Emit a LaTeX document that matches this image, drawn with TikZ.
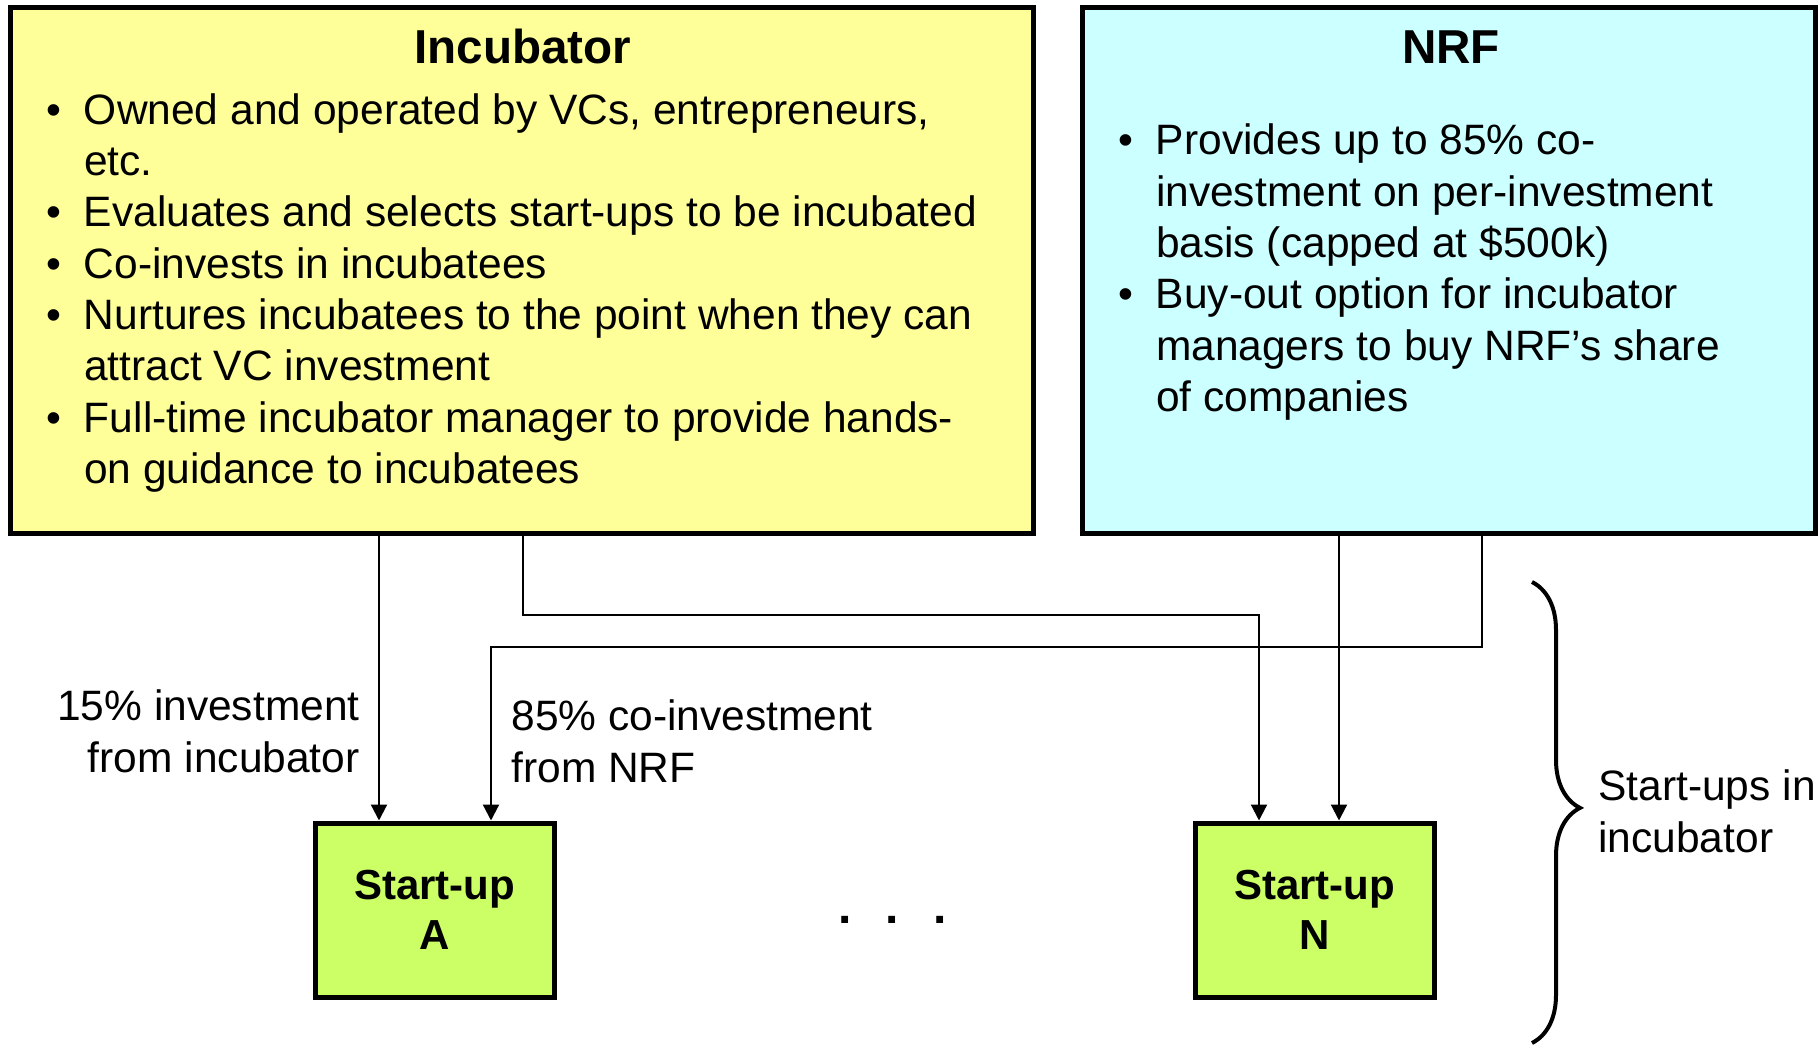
\documentclass[tikz,border=0pt]{standalone}
\usepackage{fontspec}
\setmainfont{Liberation Sans}
\usetikzlibrary{arrows.meta,decorations.pathreplacing}
\definecolor{incyellow}{RGB}{255,255,153}
\definecolor{nrfcyan}{RGB}{204,255,255}
\definecolor{startgreen}{RGB}{204,255,102}
\newcommand{\bodyfont}{\fontsize{21.25pt}{25.65pt}\selectfont}
\newcommand{\bul}{\makebox[18.8pt][l]{\textbullet}}
\newcommand{\ind}{\hspace*{18.8pt}}

\begin{document}
\begin{tikzpicture}[x=0.5pt, y=-0.5pt,
  bigbox/.style={draw, line width=2.5pt, inner sep=0pt},
  startbox/.style={draw, line width=2.5pt, fill=startgreen, minimum width=119.5pt, minimum height=87pt,
    align=center, font=\fontsize{21pt}{25pt}\selectfont\bfseries},
  titletext/.style={inner sep=0pt, font=\fontsize{23.8pt}{28pt}\selectfont\bfseries},
  bodytext/.style={inner sep=0pt, align=left, font=\bodyfont},
  flow/.style={draw, line width=1.1pt, -{Triangle[length=8pt,width=8pt]}}]
\useasboundingbox (0,0) rectangle (1820,1047);

% Incubator and NRF (multi-line texts placed by their last baseline)
\node[bigbox, fill=incyellow, minimum width=511.25pt, minimum height=263.25pt] (incubator) at (521.75,270.75) {};
\node[bigbox, fill=nrfcyan, minimum width=366.5pt, minimum height=263.25pt] (nrf) at (1448.5,270.75) {};

\node[titletext, anchor=base] (inctitle) at (523,64) {Incubator};
\node[bodytext, anchor=base west] (inclist) at (46,483.4)
    {\bul Owned and operated by VCs, entrepreneurs,\\\ind etc.\\
     \bul Evaluates and selects start-ups to be incubated\\
     \bul Co-invests in incubatees\\
     \bul Nurtures incubatees to the point when they can\\\ind attract VC investment\\
     \bul Full-time incubator manager to provide hands-\\\ind on guidance to incubatees};

\node[titletext, anchor=base] (nrftitle) at (1451,64) {NRF};
\node[bodytext, anchor=base west] (nrflist) at (1118,411.5)
    {\bul Provides up to 85\% co-\\\ind investment on per-investment\\\ind basis (capped at \$500k)\\
     \bul Buy-out option for incubator\\\ind managers to buy NRF’s share\\\ind of companies};

% Start-ups
\node[startbox] (startA) at (434.5,910) {Start-up\\A};
\node[startbox] (startN) at (1314.5,910) {Start-up\\N};
\node[font=\fontsize{24pt}{28pt}\selectfont\bfseries] (dots) at (892.5,920) {.\hspace{17pt}.\hspace{17pt}.};

\coordinate (inA1) at ([xshift=33.25pt]startA.north west);
\coordinate (inA2) at ([xshift=89.25pt]startA.north west);
\coordinate (inN1) at ([xshift=33.25pt]startN.north west);
\coordinate (inN2) at ([xshift=73.25pt]startN.north west);

\draw[flow] (incubator.south -| inA1) -- (inA1);
\draw[flow] ([xshift=0.6pt]incubator.south) -- ++(0,-39.25pt) -| (inN1);
\draw[flow] ([xshift=16.75pt]nrf.south) -- ++(0,-55.25pt) -| (inA2);
\draw[flow] (nrf.south -| inN2) -- (inN2);

\node[bodytext, align=right, anchor=base east] (lblinc) at (360,772) {15\% investment\\from incubator};
\node[bodytext, anchor=base west] (lblnrf) at (511,782) {85\% co-investment\\from NRF};

% Brace
\coordinate (bracetop) at (1532,582);
\coordinate (bracebot) at (1532,1043);
\draw[line width=2pt, decorate, decoration={brace, amplitude=24pt, aspect=0.49}] (bracetop) -- (bracebot);
\node[bodytext, anchor=base west] (lblgroup) at (1598,852) {Start-ups in\\incubator};
\end{tikzpicture}
\end{document}
